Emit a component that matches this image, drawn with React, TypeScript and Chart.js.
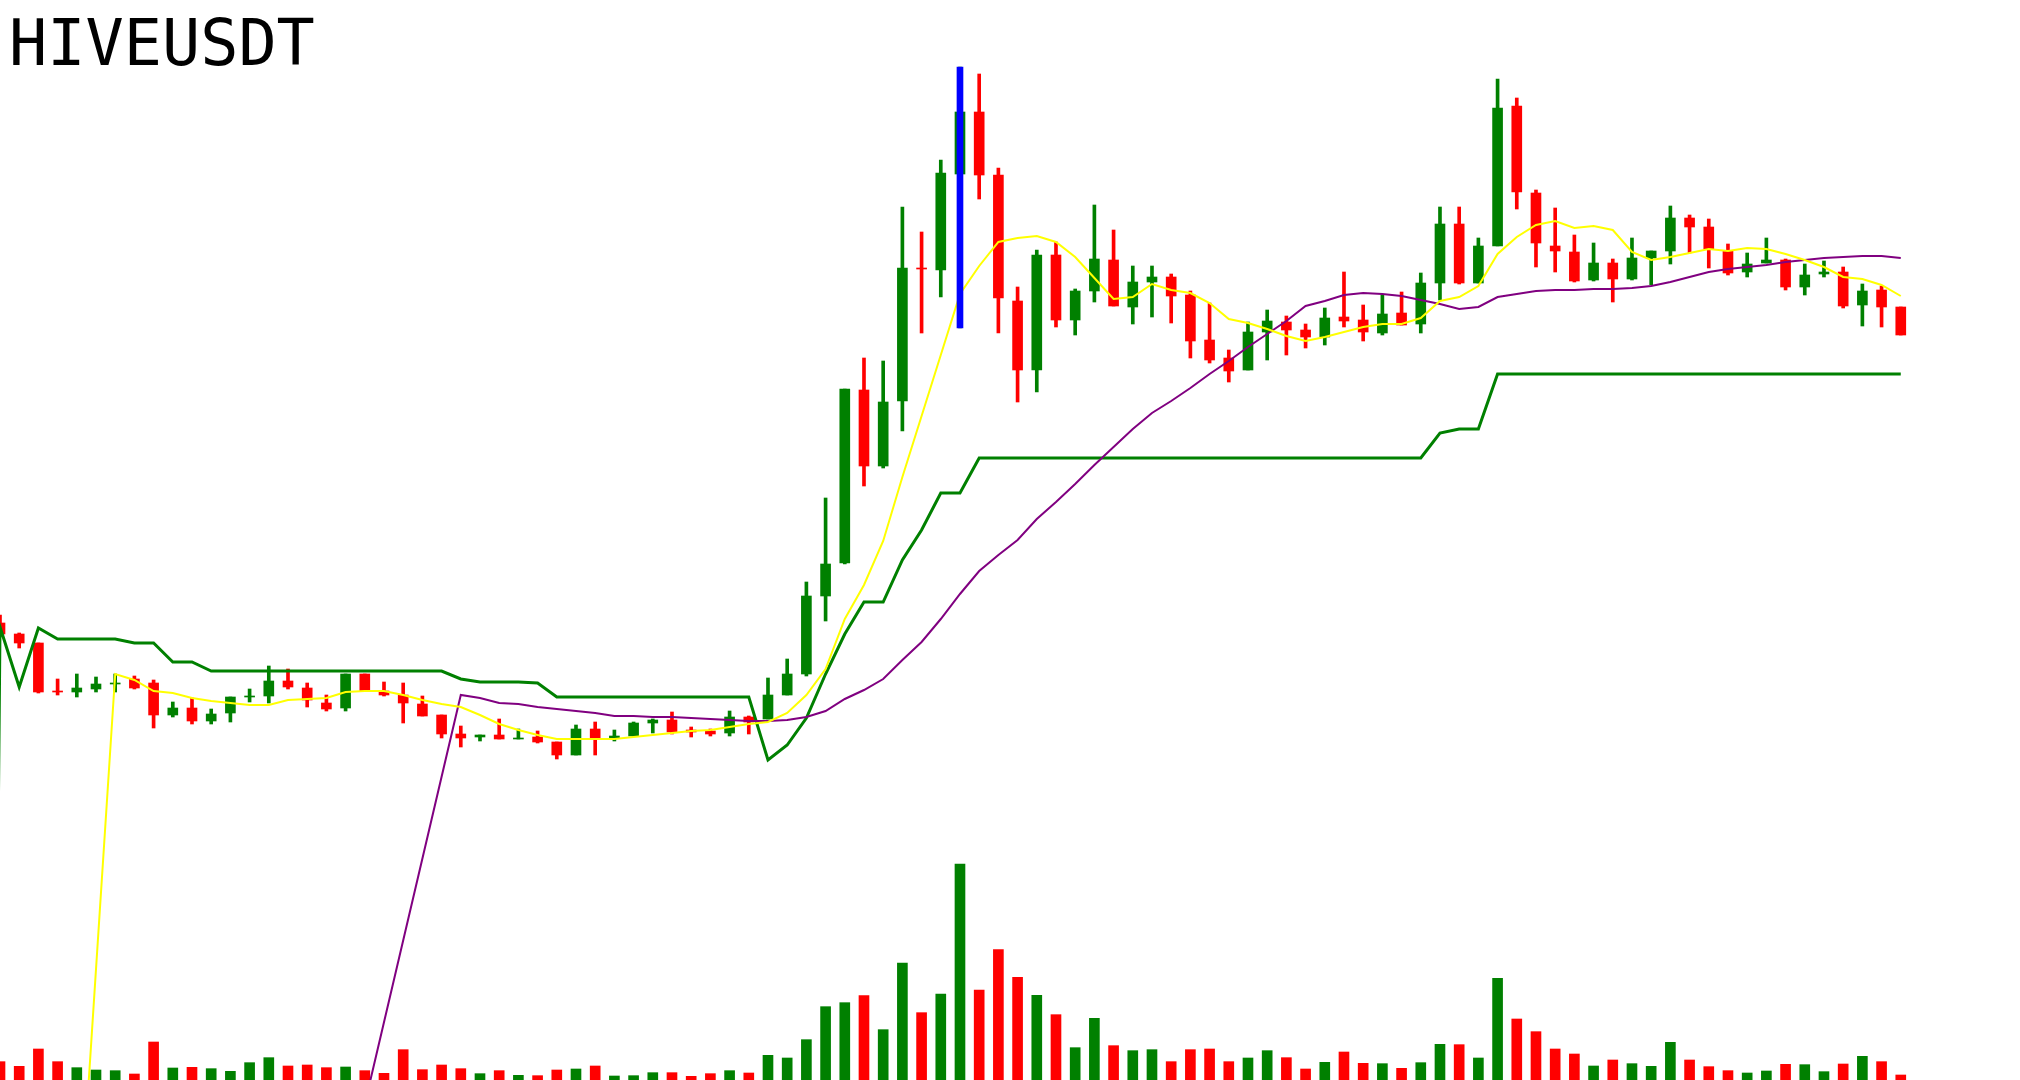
import React, { useEffect, useRef } from "react";
import { Chart, registerables } from "chart.js";

Chart.register(...registerables);

const SYMBOL = "HIVEUSDT";

const OPEN = [
  0.2117, 0.2106, 0.2097, 0.2049, 0.2048, 0.2051, 0.2056, 0.2061, 0.2057, 0.2025,
  0.2032, 0.2019, 0.2027, 0.2043, 0.2044, 0.2059, 0.2052, 0.2037, 0.2032, 0.2066,
  0.2049, 0.2045, 0.2036, 0.2025, 0.2006, 0.2003, 0.2005, 0.2001, 0.2003, 0.1998,
  0.1985, 0.2011, 0.2002, 0.2004, 0.2017, 0.2020, 0.2010, 0.2009, 0.2007, 0.2023,
  0.2021, 0.2045, 0.2066, 0.2144, 0.2177, 0.2350, 0.2274, 0.2339, 0.2472, 0.2470,
  0.2566, 0.2628, 0.2565, 0.2439, 0.2370, 0.2485, 0.2420, 0.2449, 0.2480, 0.2433,
  0.2458, 0.2463, 0.2445, 0.2400, 0.2382, 0.2370, 0.2408, 0.2418, 0.2410, 0.2403,
  0.2423, 0.2420, 0.2407, 0.2427, 0.2416, 0.2457, 0.2516, 0.2457, 0.2494, 0.2634,
  0.2547, 0.2494, 0.2488, 0.2460, 0.2477, 0.2461, 0.2482, 0.2489, 0.2522, 0.2513,
  0.2489, 0.2468, 0.2477, 0.2480, 0.2453, 0.2466, 0.2468, 0.2435, 0.2450, 0.2433,
];

const HIGH = [
  0.2125, 0.2107, 0.2097, 0.2061, 0.2066, 0.2063, 0.2066, 0.2064, 0.2060, 0.2038,
  0.2042, 0.2031, 0.2043, 0.2051, 0.2074, 0.2071, 0.2057, 0.2045, 0.2066, 0.2066,
  0.2058, 0.2057, 0.2044, 0.2025, 0.2014, 0.2005, 0.2021, 0.2011, 0.2009, 0.1998,
  0.2015, 0.2018, 0.2010, 0.2018, 0.2021, 0.2028, 0.2013, 0.2011, 0.2029, 0.2024,
  0.2062, 0.2081, 0.2158, 0.2242, 0.2351, 0.2382, 0.2379, 0.2533, 0.2508, 0.2580,
  0.2673, 0.2666, 0.2572, 0.2453, 0.2490, 0.2498, 0.2451, 0.2535, 0.2510, 0.2474,
  0.2474, 0.2466, 0.2449, 0.2437, 0.2390, 0.2418, 0.2430, 0.2424, 0.2416, 0.2432,
  0.2468, 0.2435, 0.2445, 0.2448, 0.2467, 0.2533, 0.2533, 0.2502, 0.2661, 0.2642,
  0.2550, 0.2532, 0.2505, 0.2497, 0.2481, 0.2502, 0.2489, 0.2534, 0.2525, 0.2521,
  0.2496, 0.2487, 0.2502, 0.2481, 0.2476, 0.2479, 0.2473, 0.2456, 0.2454, 0.2433,
];

const LOW = [
  0.2104, 0.2092, 0.2047, 0.2045, 0.2043, 0.2048, 0.2048, 0.2051, 0.2012, 0.2023,
  0.2016, 0.2016, 0.2018, 0.2038, 0.2037, 0.2051, 0.2033, 0.2029, 0.2029, 0.2049,
  0.2044, 0.2017, 0.2024, 0.2002, 0.1993, 0.1999, 0.2001, 0.2001, 0.1997, 0.1981,
  0.1985, 0.1985, 0.1999, 0.2004, 0.2007, 0.2006, 0.2003, 0.2004, 0.2004, 0.2006,
  0.2021, 0.2045, 0.2064, 0.2119, 0.2176, 0.2254, 0.2272, 0.2309, 0.2407, 0.2443,
  0.2412, 0.2541, 0.2407, 0.2338, 0.2348, 0.2413, 0.2405, 0.2438, 0.2434, 0.2416,
  0.2423, 0.2417, 0.2382, 0.2377, 0.2358, 0.2370, 0.2380, 0.2385, 0.2392, 0.2395,
  0.2413, 0.2399, 0.2405, 0.2415, 0.2407, 0.2440, 0.2456, 0.2457, 0.2494, 0.2531,
  0.2473, 0.2468, 0.2458, 0.2459, 0.2438, 0.2460, 0.2455, 0.2476, 0.2487, 0.2472,
  0.2465, 0.2463, 0.2477, 0.2450, 0.2445, 0.2463, 0.2432, 0.2414, 0.2413, 0.2405,
];

const CLOSE = [
  0.2106, 0.2097, 0.2048, 0.2048, 0.2052, 0.2056, 0.2057, 0.2052, 0.2025, 0.2032,
  0.2019, 0.2026, 0.2043, 0.2044, 0.2059, 0.2053, 0.2040, 0.2031, 0.2066, 0.2049,
  0.2045, 0.2037, 0.2024, 0.2006, 0.2002, 0.2005, 0.2001, 0.2002, 0.1998, 0.1985,
  0.2011, 0.2001, 0.2004, 0.2017, 0.2020, 0.2008, 0.2008, 0.2006, 0.2023, 0.2018,
  0.2045, 0.2066, 0.2144, 0.2176, 0.2351, 0.2274, 0.2338, 0.2472, 0.2471, 0.2567,
  0.2628, 0.2565, 0.2442, 0.2370, 0.2485, 0.2420, 0.2449, 0.2481, 0.2434, 0.2458,
  0.2463, 0.2444, 0.2399, 0.2380, 0.2369, 0.2408, 0.2419, 0.2410, 0.2403, 0.2422,
  0.2419, 0.2408, 0.2426, 0.2415, 0.2457, 0.2516, 0.2457, 0.2494, 0.2632, 0.2548,
  0.2497, 0.2489, 0.2459, 0.2477, 0.2461, 0.2482, 0.2489, 0.2522, 0.2513, 0.2491,
  0.2467, 0.2476, 0.2480, 0.2453, 0.2465, 0.2468, 0.2434, 0.2449, 0.2433, 0.2405,
];

const VOLUME = [
  55, 41, 93, 55, 37, 30, 28, 18, 114, 36,
  38, 34, 26, 52, 67, 42, 45, 37, 39, 28,
  20, 91, 31, 45, 34, 19, 28, 14, 13, 30,
  33, 42, 12, 13, 22, 22, 11, 19, 28, 21,
  74, 66, 121, 220, 232, 253, 151, 351, 202, 258,
  648, 270, 391, 308, 254, 196, 97, 185, 103, 88,
  91, 55, 91, 93, 55, 66, 88, 67, 33, 53,
  84, 50, 49, 35, 52, 107, 106, 66, 305, 183,
  145, 93, 78, 42, 60, 49, 41, 113, 60, 40,
  28, 21, 27, 47, 46, 25, 48, 71, 55, 15,
];

// fast moving average (yellow)
const MA_FAST: (number | null)[] = [
  null, null, null, null, null, null, 0.2066, 0.2060, 0.2049, 0.2047,
  0.2042, 0.2039, 0.2037, 0.2035, 0.2035, 0.2040, 0.2041, 0.2042, 0.2048, 0.2049,
  0.2049, 0.2045, 0.2040, 0.2036, 0.2033, 0.2025, 0.2016, 0.2010, 0.2005, 0.2001,
  0.2001, 0.2001, 0.2001, 0.2003, 0.2005, 0.2007, 0.2009, 0.2010, 0.2013, 0.2016,
  0.2018, 0.2027, 0.2045, 0.2071, 0.2121, 0.2155, 0.2199, 0.2263, 0.2324, 0.2385,
  0.2446, 0.2474, 0.2498, 0.2502, 0.2504, 0.2498, 0.2483, 0.2462, 0.2441, 0.2443,
  0.2456, 0.2450, 0.2447, 0.2437, 0.2421, 0.2417, 0.2411, 0.2404, 0.2399, 0.2403,
  0.2408, 0.2413, 0.2416, 0.2416, 0.2422, 0.2439, 0.2443, 0.2454, 0.2486, 0.2503,
  0.2515, 0.2519, 0.2512, 0.2514, 0.2510, 0.2488, 0.2480, 0.2483, 0.2487, 0.2491,
  0.2489, 0.2492, 0.2491, 0.2486, 0.2480, 0.2473, 0.2463, 0.2461, 0.2455, 0.2444,
];

// slow moving average (purple)
const MA_SLOW: (number | null)[] = [
  null, null, null, null, null, null, null, null, null, null,
  null, null, null, null, null, null, null, null, null, null,
  null, null, null, null, 0.2045, 0.2042, 0.2037, 0.2036, 0.2033, 0.2031,
  0.2029, 0.2027, 0.2024, 0.2024, 0.2023, 0.2023, 0.2022, 0.2021, 0.2020, 0.2019,
  0.2019, 0.2020, 0.2023, 0.2029, 0.2041, 0.2050, 0.2061, 0.2080, 0.2098, 0.2121,
  0.2146, 0.2169, 0.2185, 0.2200, 0.2221, 0.2238, 0.2256, 0.2275, 0.2293, 0.2311,
  0.2327, 0.2339, 0.2352, 0.2366, 0.2379, 0.2393, 0.2406, 0.2419, 0.2434, 0.2439,
  0.2445, 0.2447, 0.2446, 0.2444, 0.2440, 0.2436, 0.2431, 0.2433, 0.2443, 0.2446,
  0.2449, 0.2450, 0.2450, 0.2451, 0.2451, 0.2452, 0.2454, 0.2458, 0.2463, 0.2468,
  0.2471, 0.2473, 0.2475, 0.2478, 0.2480, 0.2482, 0.2483, 0.2484, 0.2484, 0.2482,
];

// trailing stop line (green)
const STOP_LINE = [
  0.2113, 0.2053, 0.2112, 0.2101, 0.2101, 0.2101, 0.2101, 0.2097, 0.2097, 0.2078,
  0.2078, 0.2069, 0.2069, 0.2069, 0.2069, 0.2069, 0.2069, 0.2069, 0.2069, 0.2069,
  0.2069, 0.2069, 0.2069, 0.2069, 0.2061, 0.2058, 0.2058, 0.2058, 0.2057, 0.2043,
  0.2043, 0.2043, 0.2043, 0.2043, 0.2043, 0.2043, 0.2043, 0.2043, 0.2043, 0.2043,
  0.1980, 0.1995, 0.2022, 0.2066, 0.2106, 0.2138, 0.2138, 0.2180, 0.2210, 0.2247,
  0.2247, 0.2282, 0.2282, 0.2282, 0.2282, 0.2282, 0.2282, 0.2282, 0.2282, 0.2282,
  0.2282, 0.2282, 0.2282, 0.2282, 0.2282, 0.2282, 0.2282, 0.2282, 0.2282, 0.2282,
  0.2282, 0.2282, 0.2282, 0.2282, 0.2282, 0.2307, 0.2311, 0.2311, 0.2366, 0.2366,
  0.2366, 0.2366, 0.2366, 0.2366, 0.2366, 0.2366, 0.2366, 0.2366, 0.2366, 0.2366,
  0.2366, 0.2366, 0.2366, 0.2366, 0.2366, 0.2366, 0.2366, 0.2366, 0.2366, 0.2366,
];

// all indicator lines start from a zero value one bar before the first candle
const LINE_START_INDEX = -1;
const LINE_START_VALUE = 0;

// highlighted bar
const SIGNAL_INDEX = 50;
const SIGNAL_RANGE = [0.2412, 0.2673];

// axis ranges
const X_MIN = 0;
const X_MAX = 105.21;
const PRICE_MIN = 0.166;
const PRICE_MAX = 0.274;
const VOLUME_MAX = 3240;

const GREEN = "#008000";
const RED = "#ff0000";
const YELLOW = "#ffff00";
const PURPLE = "#800080";
const BLUE = "#0000ff";

export default function App() {
  const ref = useRef<HTMLCanvasElement | null>(null);

  useEffect(() => {
    if (!ref.current) return;
    const idx = OPEN.map((_, i) => i);
    const colors = idx.map((i) => (CLOSE[i] >= OPEN[i] ? GREEN : RED));
    const lineData = (arr: (number | null)[]) => [
      { x: LINE_START_INDEX, y: LINE_START_VALUE },
      ...arr
        .map((v, i) => ({ x: i, y: v }))
        .filter((p) => p.y !== null),
    ];

    const chart = new Chart(ref.current, {
      type: "bar",
      data: {
        datasets: [
          {
            type: "bar",
            label: "signal",
            data: [{ x: SIGNAL_INDEX, y: SIGNAL_RANGE }],
            backgroundColor: BLUE,
            barThickness: 6,
            maxBarThickness: 6,
            grouped: false,
            order: 0,
            yAxisID: "y",
          } as any,
          {
            type: "line",
            label: "MA fast",
            data: lineData(MA_FAST),
            borderColor: YELLOW,
            borderWidth: 2,
            pointRadius: 0,
            tension: 0,
            order: 1,
            yAxisID: "y",
          } as any,
          {
            type: "line",
            label: "MA slow",
            data: lineData(MA_SLOW),
            borderColor: PURPLE,
            borderWidth: 2,
            pointRadius: 0,
            tension: 0,
            order: 1,
            yAxisID: "y",
          } as any,
          {
            type: "line",
            label: "stop",
            data: lineData(STOP_LINE),
            borderColor: GREEN,
            borderWidth: 3,
            pointRadius: 0,
            tension: 0,
            order: 2,
            yAxisID: "y",
          } as any,
          {
            type: "bar",
            label: "body",
            data: idx.map((i) => ({ x: i, y: [OPEN[i], CLOSE[i]] })),
            backgroundColor: colors,
            barThickness: 10,
            maxBarThickness: 10,
            grouped: false,
            order: 3,
            yAxisID: "y",
          } as any,
          {
            type: "bar",
            label: "wick",
            data: idx.map((i) => ({ x: i, y: [LOW[i], HIGH[i]] })),
            backgroundColor: colors,
            barThickness: 3,
            maxBarThickness: 3,
            grouped: false,
            order: 4,
            yAxisID: "y",
          } as any,
          {
            type: "bar",
            label: "volume",
            data: idx.map((i) => ({ x: i, y: VOLUME[i] })),
            backgroundColor: colors,
            barThickness: 10,
            maxBarThickness: 10,
            grouped: false,
            order: 5,
            yAxisID: "yv",
          } as any,
        ],
      },
      options: {
        animation: false,
        responsive: false,
        devicePixelRatio: 1,
        events: [],
        layout: { padding: 0 },
        plugins: {
          legend: { display: false },
          tooltip: { enabled: false },
          title: { display: false },
        },
        scales: {
          x: { type: "linear", min: X_MIN, max: X_MAX, display: false, offset: false },
          y: { type: "linear", min: PRICE_MIN, max: PRICE_MAX, display: false },
          yv: { type: "linear", min: 0, max: VOLUME_MAX, display: false },
        },
      } as any,
    });
    return () => chart.destroy();
  }, []);

  return (
    <div
      style={{
        position: "fixed",
        left: 0,
        top: 0,
        width: 2020,
        height: 1080,
        background: "#ffffff",
        overflow: "hidden",
      }}
    >
      <canvas
        ref={ref}
        width={2020}
        height={1080}
        style={{ position: "absolute", left: 0, top: 0, width: 2020, height: 1080 }}
      />
      <div
        style={{
          position: "absolute",
          left: 9,
          top: 12,
          fontFamily: "'DejaVu Sans Mono', monospace",
          fontSize: 63.5,
          lineHeight: 1,
          color: "#000000",
          whiteSpace: "pre",
        }}
      >
        {SYMBOL}
      </div>
    </div>
  );
}
